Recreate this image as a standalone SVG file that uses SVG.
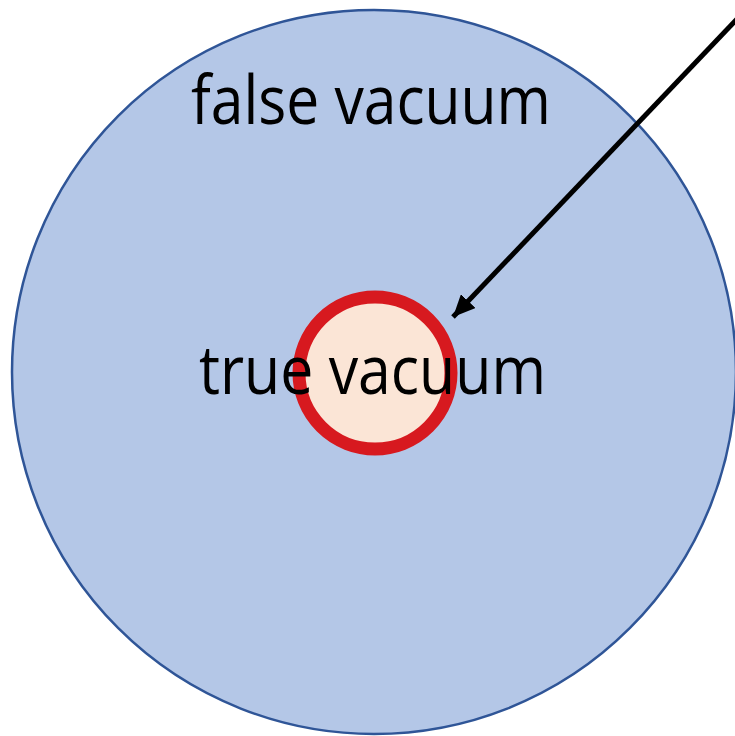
<svg xmlns="http://www.w3.org/2000/svg" width="735" height="736" viewBox="0 0 735 736">
<style>
.lbl{font-family:"Open Sans","Liberation Sans",sans-serif;font-size:67px;fill:#000}
</style>
<defs>
<marker id="ah" markerUnits="userSpaceOnUse" markerWidth="24" markerHeight="20" refX="22" refY="10" orient="auto">
<path d="M0,0 L22,10 L0,20 z" fill="#000"/>
</marker>
</defs>
<rect width="735" height="736" fill="#fff"/>
<g id="false-vacuum">
<circle cx="374" cy="372" r="362" fill="#B4C7E7" stroke="#2F5597" stroke-width="2.5"/>
<text class="lbl" x="191" y="124" textLength="360" lengthAdjust="spacingAndGlyphs">false vacuum</text>
</g>
<g id="true-vacuum">
<circle cx="375" cy="373" r="76" fill="#FBE5D6" stroke="#D7191F" stroke-width="13"/>
<text class="lbl" x="199" y="394" textLength="347" lengthAdjust="spacingAndGlyphs">true vacuum</text>
</g>
<g id="connectors">
<line x1="740" y1="16" x2="453" y2="317" stroke="#000" stroke-width="5" marker-end="url(#ah)"/>
</g>
</svg>
